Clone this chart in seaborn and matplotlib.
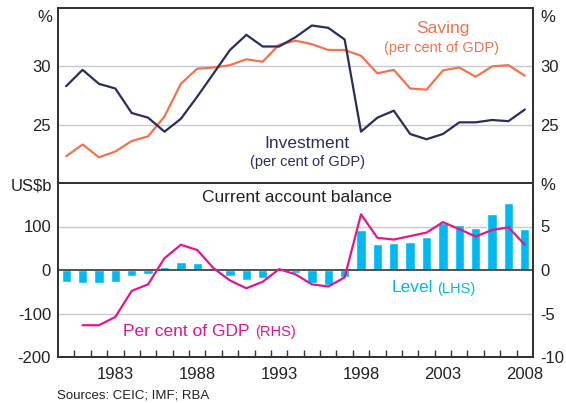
import numpy as np
import pandas as pd
import matplotlib
matplotlib.use("Agg")
import matplotlib.pyplot as plt
import seaborn as sns
from matplotlib.ticker import FixedLocator

years = list(range(1980, 2009))
saving = [22.3, 23.3, 22.2, 22.7, 23.6, 24.0, 25.7, 28.5, 29.8, 29.9, 30.1, 30.6, 30.4, 31.85,
          32.2, 31.9, 31.4, 31.4, 30.9, 29.4, 29.7, 28.1, 28.0, 29.65, 29.9, 29.1, 30.0, 30.1, 29.2]
investment = [28.3, 29.7, 28.5, 28.1, 26.0, 25.6, 24.4, 25.5, 27.4, 29.4, 31.4, 32.7, 31.7, 31.7,
              32.5, 33.5, 33.3, 32.3, 24.4, 25.6, 26.2, 24.2, 23.75, 24.2, 25.2, 25.2, 25.4, 25.3, 26.3]
ca_level = [-27, -29, -29, -27, -14, -8.5, 7, 18.5, 16, 4.6, -14, -22, -18.5, 1,
            -6, -31, -35, -17, 92, 60, 62, 65, 76, 108, 104, 97, 129, 155, 95]
ca_pct_years = list(range(1981, 2009))
ca_pct = [-6.35, -6.35, -5.4, -2.4, -1.65, 1.35, 2.9, 2.3, 0.2, -1.2, -2.1, -1.35, 0.1,
          -0.5, -1.65, -1.9, -0.85, 6.4, 3.7, 3.5, 3.9, 4.3, 5.5, 4.7, 3.85, 4.6, 4.9, 2.9]
year_labels = [1983, 1988, 1993, 1998, 2003, 2008]

C_SAV = "#F4724E"
C_INV = "#2B2C62"
C_BAR = "#00B9F1"
C_PCT = "#E5168A"
C_GRID = "#C9C9D6"
C_AX = "#333333"

sns.set_theme(style="white")
plt.rcParams["font.family"] = ["Liberation Sans", "DejaVu Sans"]

W, H = 566, 403
fig = plt.figure(figsize=(W / 100, H / 100), dpi=100)

def px(x0, y0, x1, y1):
    return [x0 / W, 1 - y1 / H, (x1 - x0) / W, (y1 - y0) / H]

ax1 = fig.add_axes(px(58, 8, 533, 183))
ax2 = fig.add_axes(px(58, 183, 533, 357))

top_df = pd.DataFrame({"year": years, "saving": saving, "investment": investment})
sns.lineplot(data=top_df, x="year", y="saving", ax=ax1, color=C_SAV, lw=1.6)
sns.lineplot(data=top_df, x="year", y="investment", ax=ax1, color=C_INV, lw=1.6)
ax1.set_xlim(1979.5, 2008.5)
ax1.set_ylim(20, 35)
ax1.set_yticks([25, 30])
for v in [25, 30]:
    ax1.axhline(v, color=C_GRID, lw=1, zorder=0)
ax1.set_xticks([])
ax1.set_xlabel("")
ax1.set_ylabel("")
ax1r = ax1.twinx()
ax1r.set_ylim(20, 35)
ax1r.set_yticks([25, 30])

bar_df = pd.DataFrame({"year": years, "level": ca_level})
sns.barplot(data=bar_df, x="year", y="level", ax=ax2, color=C_BAR, native_scale=True,
            width=0.57, saturation=1, zorder=2)
ax2.set_xlim(1979.5, 2008.5)
ax2.set_ylim(-200, 200)
ax2.set_yticks([-200, -100, 0, 100])
for v in [-100, 100]:
    ax2.axhline(v, color=C_GRID, lw=1, zorder=0)
ax2.axhline(0, color=C_AX, lw=1.2, zorder=3)
ax2.set_xlabel("")
ax2.set_ylabel("")
ax2r = ax2.twinx()
pct_df = pd.DataFrame({"year": ca_pct_years, "pct": ca_pct})
sns.lineplot(data=pct_df, x="year", y="pct", ax=ax2r, color=C_PCT, lw=1.6)
ax2r.set_ylim(-10, 10)
ax2r.set_yticks([-10, -5, 0, 5])
ax2r.set_ylabel("")
ax2r.set_xlim(1979.5, 2008.5)

ax2.xaxis.set_major_locator(FixedLocator(year_labels))
ax2.xaxis.set_minor_locator(FixedLocator([y + 0.5 for y in range(1980, 2008)]))
ax2.tick_params(axis="x", which="major", length=0, labelsize=12, colors="#222222", pad=7)
ax2.tick_params(axis="x", which="minor", length=5, width=1, direction="in", color=C_AX, bottom=True)
ax2r.tick_params(axis="x", which="both", length=0)

for a in [ax1, ax1r, ax2, ax2r]:
    a.tick_params(axis="y", length=0, labelsize=12, colors="#222222", pad=5)
    for s in a.spines.values():
        s.set_color(C_AX)
        s.set_linewidth(1.3)
    a.grid(False)
ax2.set_yticklabels(["-200", "-100", "0", "100"])
ax2r.set_yticklabels(["-10", "-5", "0", "5"])

def ftext(x, y, s, **kw):
    fig.text(x / W, 1 - y / H, s, **kw)

ftext(52, 17, "%", ha="right", va="center", fontsize=12, color="#222222")
ftext(540, 17, "%", ha="left", va="center", fontsize=12, color="#222222")
ftext(52, 186, "US$b", ha="right", va="center", fontsize=12, color="#222222")
ftext(540, 185, "%", ha="left", va="center", fontsize=12, color="#222222")

ftext(443, 29, "Saving", ha="center", va="center", fontsize=12.5, color=C_SAV)
ftext(441, 48, "(per cent of GDP)", ha="center", va="center", fontsize=10.5, color=C_SAV)
ftext(307, 143, "Investment", ha="center", va="center", fontsize=12.5, color=C_INV)
ftext(308, 162, "(per cent of GDP)", ha="center", va="center", fontsize=10.5, color=C_INV)
ftext(297, 197, "Current account balance", ha="center", va="center", fontsize=12.5, color="#222222")
ftext(392, 288, "Level", ha="left", va="center", fontsize=12.5, color=C_BAR)
ftext(437, 289, "(LHS)", ha="left", va="center", fontsize=10.5, color=C_BAR)
ftext(123, 331, "Per cent of GDP", ha="left", va="center", fontsize=12.5, color=C_PCT)
ftext(255, 332, "(RHS)", ha="left", va="center", fontsize=10.5, color=C_PCT)
ftext(57, 396, "Sources: CEIC; IMF; RBA", ha="left", va="center", fontsize=9.5, color="#222222")

fig.savefig("out.png", dpi=100)
